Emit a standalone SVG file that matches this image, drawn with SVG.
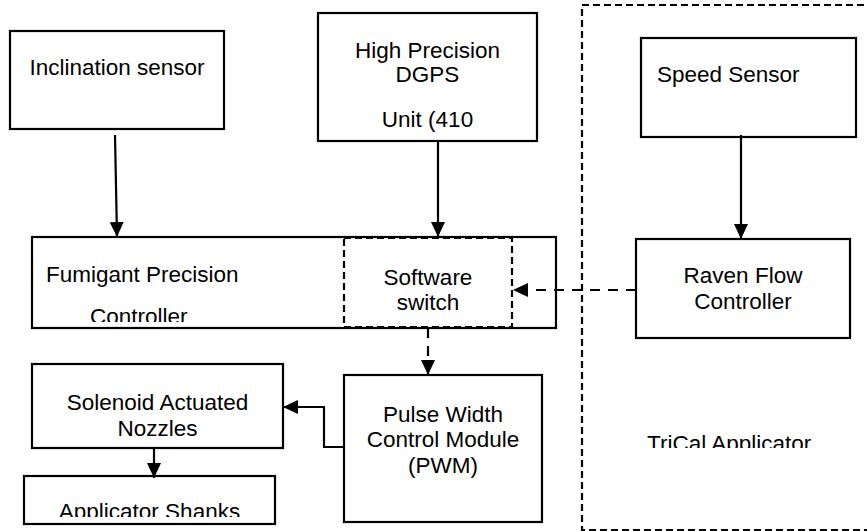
<svg xmlns="http://www.w3.org/2000/svg" width="867" height="531" viewBox="0 0 867 531">
<style>
.box{fill:#fff;stroke:#000;stroke-width:2.2}
.dbox{fill:none;stroke:#000;stroke-width:2.2;stroke-dasharray:7 4}
.t{font-family:"Liberation Sans",Arial,sans-serif;font-size:22.5px;fill:#000}
.c{text-anchor:middle}
.ln{fill:none;stroke:#000;stroke-width:2.2}
.dl{fill:none;stroke:#000;stroke-width:2.2;stroke-dasharray:10 8}
</style>
<defs>
<marker id="ah" markerUnits="userSpaceOnUse" markerWidth="15" markerHeight="14" viewBox="0 0 15 14" refX="15" refY="7" orient="auto">
<path d="M0,0 L15,7 L0,14 Z" fill="#000"/>
</marker>
<clipPath id="clipFum"><rect x="32" y="237" width="320" height="85"/></clipPath>
<clipPath id="clipApp"><rect x="24" y="476" width="251" height="41"/></clipPath>
<clipPath id="clipTri"><rect x="600" y="400" width="260" height="48"/></clipPath>
</defs>

<g id="trical">
<rect x="582" y="5" width="300" height="525" class="dbox"/>
<text class="t" x="647" y="451" clip-path="url(#clipTri)">TriCal Applicator</text>
</g>

<g id="inclination">
<rect x="10" y="31" width="214" height="98" class="box"/>
<text class="t c" x="117" y="75">Inclination sensor</text>
</g>

<g id="dgps">
<rect x="318" y="13" width="219" height="128" class="box"/>
<text class="t c" x="427.5" y="58">High Precision</text>
<text class="t c" x="427.5" y="82">DGPS</text>
<text class="t c" x="427.5" y="127">Unit (410</text>
</g>

<g id="speed">
<rect x="641" y="38" width="215" height="99" class="box"/>
<text class="t" x="657" y="82">Speed Sensor</text>
</g>

<g id="fumigant">
<rect x="32" y="237" width="524" height="91" class="box"/>
<text class="t" x="46" y="282">Fumigant Precision</text>
<text class="t" x="90" y="324" clip-path="url(#clipFum)">Controller</text>
</g>

<g id="software-switch">
<rect x="344" y="238" width="168" height="89" class="dbox"/>
<text class="t c" x="428" y="285">Software</text>
<text class="t c" x="428" y="310">switch</text>
</g>

<g id="raven">
<rect x="636" y="239" width="214" height="99" class="box"/>
<text class="t c" x="743" y="283">Raven Flow</text>
<text class="t c" x="743" y="309">Controller</text>
</g>

<g id="pwm">
<rect x="344" y="375" width="198" height="147" class="box"/>
<text class="t c" x="443" y="422">Pulse Width</text>
<text class="t c" x="443" y="447">Control Module</text>
<text class="t c" x="443" y="473">(PWM)</text>
</g>

<g id="solenoid">
<rect x="32" y="364" width="251" height="84" class="box"/>
<text class="t c" x="157.5" y="410">Solenoid Actuated</text>
<text class="t c" x="157.5" y="436">Nozzles</text>
</g>

<g id="shanks">
<rect x="24" y="476" width="251" height="48" class="box"/>
<text class="t c" x="149.5" y="519" clip-path="url(#clipApp)">Applicator Shanks</text>
</g>

<g id="connectors">
<path class="ln" d="M115,135 L117,237" marker-end="url(#ah)"/>
<path class="ln" d="M438,141 L438,237" marker-end="url(#ah)"/>
<path class="ln" d="M741,135 L741,239" marker-end="url(#ah)"/>
<path class="dl" d="M636,290 L513,290" marker-end="url(#ah)"/>
<path class="dl" d="M428,328 L428,375" marker-end="url(#ah)"/>
<path class="ln" d="M344,447 L324,447 L324,407 L283,407" marker-end="url(#ah)"/>
<path class="ln" d="M154,448 L154,478" marker-end="url(#ah)"/>
</g>
</svg>
